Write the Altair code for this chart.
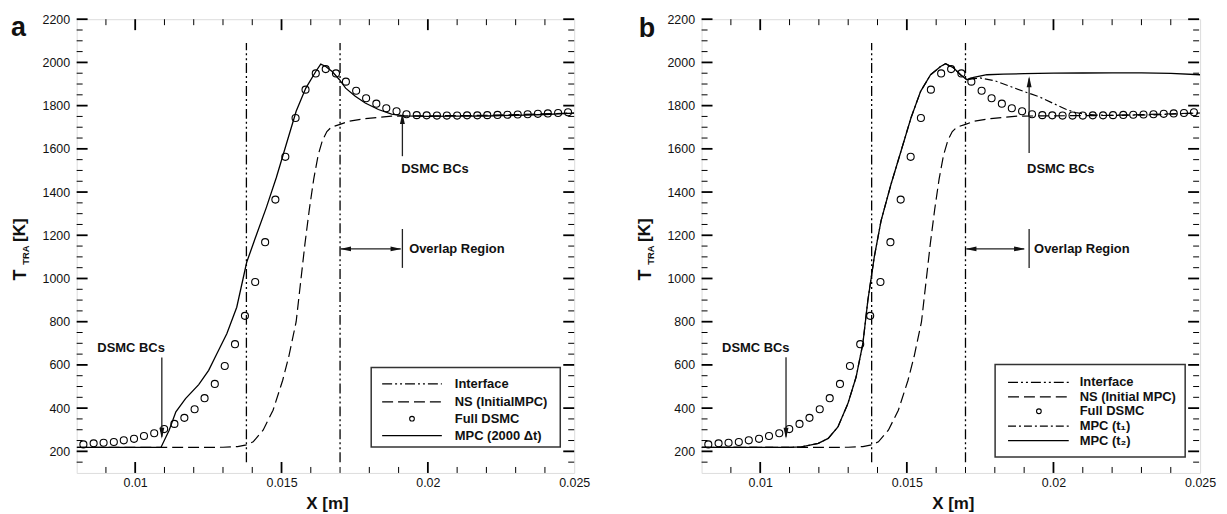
import altair as alt
import pandas as pd

# ---------------- data ----------------
dsmc_x = [0.00823, 0.00858, 0.00892, 0.00927, 0.00961, 0.00996, 0.01030, 0.01065, 0.01099, 0.01134,
          0.01168, 0.01203, 0.01237, 0.01272, 0.01306, 0.01341, 0.01375, 0.01410, 0.01444, 0.01479,
          0.01513, 0.01548, 0.01582, 0.01617, 0.01651, 0.01686, 0.01720, 0.01755, 0.01789, 0.01824,
          0.01858, 0.01893, 0.01927, 0.01962, 0.01996, 0.02031, 0.02065, 0.02100, 0.02134, 0.02169,
          0.02203, 0.02238, 0.02272, 0.02307, 0.02341, 0.02376, 0.02410, 0.02445, 0.02479]
dsmc_T = [232, 237, 240, 243, 251, 258, 271, 284, 303, 327,
          355, 395, 446, 512, 595, 696, 827, 984, 1168, 1365,
          1563, 1743, 1874, 1949, 1969, 1949, 1911, 1869, 1834, 1809,
          1788, 1774, 1760, 1756, 1755, 1754, 1754, 1754, 1755, 1755,
          1756, 1757, 1758, 1759, 1760, 1762, 1764, 1766, 1769]

ns_x = [0.008, 0.0120, 0.0130, 0.0135, 0.0138, 0.01403, 0.01437, 0.01471, 0.01504, 0.01525,
        0.0155, 0.01565, 0.0158, 0.01595, 0.0161, 0.01625, 0.0164, 0.01655, 0.0167, 0.0170,
        0.0173, 0.01786, 0.01876, 0.0200, 0.0215, 0.0230, 0.0250]
ns_T = [218, 218, 219, 222, 230, 244, 298, 390, 529, 640,
        800, 980, 1160, 1320, 1460, 1570, 1640, 1680, 1700, 1713,
        1728, 1740, 1751, 1753, 1754, 1758, 1766]

mpc_a_x = [0.008, 0.01088, 0.01116, 0.01139, 0.01172, 0.01217, 0.01251, 0.01279, 0.01313, 0.01347,
           0.01381, 0.01415, 0.01448, 0.01482, 0.01516, 0.0155, 0.01583, 0.01617, 0.01634, 0.01651,
           0.01673, 0.01698, 0.01719, 0.01752, 0.01786, 0.01831, 0.01876, 0.0192, 0.0200, 0.0210,
           0.0220, 0.0230, 0.0240, 0.0250]
mpc_a_T = [218, 218, 298, 383, 444, 509, 575, 652, 744, 867,
           1075, 1205, 1328, 1466, 1620, 1774, 1881, 1958, 1992, 1981,
           1958, 1920, 1881, 1843, 1812, 1782, 1761, 1753, 1750, 1751,
           1752, 1755, 1759, 1765]

mpc_t2_x = [0.008, 0.0110, 0.01141, 0.01198, 0.01232, 0.01265, 0.01299, 0.01327, 0.0135, 0.01367,
            0.01389, 0.01412, 0.01446, 0.0148, 0.01514, 0.01547, 0.01581, 0.01615, 0.01632, 0.0166,
            0.01683, 0.01705, 0.01728, 0.01773, 0.01829, 0.0190, 0.0200, 0.0210, 0.0220, 0.0230,
            0.0240, 0.0250]
mpc_t2_T = [218, 218, 221, 237, 260, 313, 421, 544, 698, 898,
            1100, 1267, 1436, 1589, 1743, 1866, 1943, 1981, 1994, 1974,
            1943, 1920, 1931, 1943, 1946, 1948, 1950, 1951, 1952, 1952,
            1949, 1943]

mpc_t1_x = [0.008, 0.0110, 0.01141, 0.01198, 0.01232, 0.01265, 0.01299, 0.01327, 0.0135, 0.01367,
            0.01389, 0.01412, 0.01446, 0.0148, 0.01514, 0.01547, 0.01581, 0.01615, 0.01632, 0.0166,
            0.01683, 0.01705, 0.01728, 0.0175, 0.0180, 0.01852, 0.0190, 0.01953, 0.0200, 0.02044,
            0.02075, 0.0211, 0.0215, 0.0220, 0.0230, 0.0240, 0.0250]
mpc_t1_T = [218, 218, 221, 237, 260, 313, 421, 544, 698, 898,
            1100, 1267, 1436, 1589, 1743, 1866, 1943, 1981, 1994, 1974,
            1943, 1920, 1925, 1928, 1915, 1889, 1865, 1840, 1810, 1782,
            1768, 1760, 1756, 1755, 1756, 1760, 1766]

interface_x = [0.0138, 0.017]
interface_T = [150, 2090]

x_label_values = [0.01, 0.015, 0.02, 0.025]
y_label_values = [200, 400, 600, 800, 1000, 1200, 1400, 1600, 1800, 2000, 2200]

# ---------------- styling helpers ----------------
FONT = "Liberation Sans"
W, H = 500, 456
X_DOMAIN = [0.008, 0.025]
Y_DOMAIN = [100, 2200]

XS = alt.Scale(domain=X_DOMAIN, nice=False, zero=False)
YS = alt.Scale(domain=Y_DOMAIN, nice=False, zero=False)
XAX = alt.Axis(values=x_label_values, format="~g", ticks=False, domain=False, grid=False,
               labelFlush=False, labelFont=FONT, labelFontSize=12.5, labelColor="#111",
               labelPadding=4, title=None)
YAX = alt.Axis(values=y_label_values, format="d", ticks=False, domain=False, grid=False,
               labelFont=FONT, labelFontSize=12.5, labelColor="#111", labelPadding=7, title=None)


def X(f):
    return alt.X(f"{f}:Q", scale=XS, axis=XAX)


def Y(f):
    return alt.Y(f"{f}:Q", scale=YS, axis=YAX)


ONE = pd.DataFrame({"k": [0]})

DASH_IFACE = [10, 3, 2, 3, 2, 3]
DASH_NS = [11, 5]
DASH_T1 = [8, 3, 2, 3]

ARROW_DOWN = "M0,0L-0.45,-2L0.45,-2Z"
ARROW_UP = "M0,0L-0.45,2L0.45,2Z"
ARROW_LEFT = "M0,0L2,-0.45L2,0.45Z"
ARROW_RIGHT = "M0,0L-2,-0.45L-2,0.45Z"

# tick positions (axis decoration)
y_major = list(range(200, 2201, 200))
y_minor = [v for v in range(150, 2200, 50) if v % 200 != 0]
x_major = [0.01, 0.015, 0.02]
x_minor = [round(0.008 + 0.001 * i, 3) for i in range(1, 17) if i not in (2, 7, 12)]


def ticks():
    layers = []
    for vals, ln, sw in ((y_major, 11, 1.8), (y_minor, 6, 1.0)):
        d = pd.DataFrame({"v": vals})
        layers.append(alt.Chart(d).mark_rule(color="black", strokeWidth=sw).encode(
            y=Y("v"), x=alt.value(0), x2=alt.value(ln)))
        layers.append(alt.Chart(d).mark_rule(color="black", strokeWidth=sw).encode(
            y=Y("v"), x=alt.value(W), x2=alt.value(W - ln)))
    for vals, ln, sw in ((x_major, 11, 1.8), (x_minor, 6, 1.0)):
        d = pd.DataFrame({"v": vals})
        layers.append(alt.Chart(d).mark_rule(color="black", strokeWidth=sw).encode(
            x=X("v"), y=alt.value(H), y2=alt.value(H - ln)))
        layers.append(alt.Chart(d).mark_rule(color="black", strokeWidth=sw).encode(
            x=X("v"), y=alt.value(0), y2=alt.value(ln)))
    return layers


def line(xv, tv, dash=None, sw=1.3):
    d = pd.DataFrame({"x": xv, "T": tv})
    kw = dict(color="black", strokeWidth=sw, clip=True)
    if dash:
        kw["strokeDash"] = dash
    return alt.Chart(d).mark_line(**kw).encode(x=X("x"), y=Y("T"))


def interfaces():
    d = pd.DataFrame({"x": interface_x, "y0": [interface_T[0]] * 2, "y1": [interface_T[1]] * 2})
    return alt.Chart(d).mark_rule(color="black", strokeWidth=1.3, strokeDash=DASH_IFACE).encode(
        x=X("x"), y=Y("y0"), y2=alt.Y2("y1"))


def circles():
    d = pd.DataFrame({"x": dsmc_x, "T": dsmc_T})
    return alt.Chart(d).mark_point(shape="circle", filled=False, size=50, color="black",
                                   strokeWidth=1.1, opacity=1).encode(x=X("x"), y=Y("T"))


def vseg(x, t0, t1):
    d = pd.DataFrame({"x": [x], "a": [t0], "b": [t1]})
    return alt.Chart(d).mark_rule(color="#222", strokeWidth=1.3).encode(
        x=X("x"), y=Y("a"), y2=alt.Y2("b"))


def hseg(x0, x1, t):
    d = pd.DataFrame({"a": [x0], "b": [x1], "T": [t]})
    return alt.Chart(d).mark_rule(color="#222", strokeWidth=1.3).encode(
        x=X("a"), x2=alt.X2("b"), y=Y("T"))


def head(x, t, shape):
    d = pd.DataFrame({"x": [x], "T": [t]})
    return alt.Chart(d).mark_point(shape=shape, filled=True, size=121, color="#111",
                                   opacity=1).encode(x=X("x"), y=Y("T"))


def label(x, t, txt, align="left", baseline="alphabetic"):
    d = pd.DataFrame({"x": [x], "T": [t], "s": [txt]})
    return alt.Chart(d).mark_text(font=FONT, fontWeight="bold", fontSize=13, color="#111",
                                  align=align, baseline=baseline).encode(
        x=X("x"), y=Y("T"), text="s:N")


def ptext(px, py, txt, size, align="center", baseline="alphabetic", angle=None, weight="bold"):
    kw = dict(font=FONT, fontWeight=weight, fontSize=size, color="#111", align=align,
              baseline=baseline)
    if angle is not None:
        kw["angle"] = angle
    return alt.Chart(ONE).mark_text(**kw).encode(x=alt.value(px), y=alt.value(py),
                                                 text=alt.value(txt))


def legend(box, rows, sample_x, circle_x, text_x):
    x0, x1, y0, y1 = box
    layers = [alt.Chart(ONE).mark_rect(fill="white", stroke="#333", strokeWidth=1.5).encode(
        x=alt.value(x0), x2=alt.value(x1), y=alt.value(y0), y2=alt.value(y1))]
    for ry, kind, txt in rows:
        if kind == "circle":
            layers.append(alt.Chart(ONE).mark_point(shape="circle", filled=False, size=22,
                                                    color="black", strokeWidth=1.1, opacity=1).encode(
                x=alt.value(circle_x), y=alt.value(ry)))
        else:
            kw = dict(color="black", strokeWidth=1.3)
            if kind is not None:
                kw["strokeDash"] = kind
            layers.append(alt.Chart(ONE).mark_rule(**kw).encode(
                x=alt.value(sample_x[0]), x2=alt.value(sample_x[1]), y=alt.value(ry)))
        layers.append(ptext(text_x, ry, txt, 13, align="left", baseline="middle"))
    return layers


def ytitle():
    return [
        ptext(-51, 257, "T", 18, angle=270),
        ptext(-48, 237, "TRA", 9.5, angle=270),
        ptext(-52, 212, "[K]", 17, angle=270),
    ]


# ---------------- panel a ----------------
layers_a = [
    interfaces(),
    line(ns_x, ns_T, DASH_NS, 1.2),
    line(mpc_a_x, mpc_a_T, None, 1.3),
    circles(),
    # DSMC BCs (left)
    vseg(0.01091, 634, 268), head(0.01091, 258, ARROW_DOWN),
    label(0.00986, 658, "DSMC BCs", align="center"),
    # DSMC BCs (right)
    vseg(0.01913, 1566, 1755), head(0.01913, 1766, ARROW_UP),
    label(0.01909, 1489, "DSMC BCs"),
    # Overlap region
    hseg(0.01703, 0.01907, 1137), head(0.01700, 1137, ARROW_LEFT), head(0.01910, 1137, ARROW_RIGHT),
    vseg(0.01913, 1049, 1229),
    label(0.01936, 1137, "Overlap Region", baseline="middle"),
] + ticks() + legend(
    (296, 486, 350, 430),
    [(366.5, DASH_IFACE, "Interface"), (384.5, DASH_NS, "NS (InitialMPC)"),
     (401.5, "circle", "Full DSMC"), (418.5, None, "MPC (2000 \u0394t)")],
    (307, 367), 337, 380) + ytitle() + [
    ptext(-66, 16.5, "a", 27, align="left"),
    ptext(252, 492, "X [m]", 17),
]

panel_a = alt.layer(*layers_a).properties(width=W, height=H)

# ---------------- panel b ----------------
layers_b = [
    interfaces(),
    line(ns_x, ns_T, DASH_NS, 1.2),
    line(mpc_t1_x, mpc_t1_T, DASH_T1, 1.2),
    line(mpc_t2_x, mpc_t2_T, None, 1.3),
    circles(),
    vseg(0.01088, 636, 268), head(0.01088, 258, ARROW_DOWN),
    label(0.00985, 662, "DSMC BCs", align="center"),
    vseg(0.01917, 1581, 1925), head(0.01917, 1936, ARROW_UP),
    label(0.01910, 1489, "DSMC BCs"),
    hseg(0.01703, 0.01900, 1137), head(0.01700, 1137, ARROW_LEFT), head(0.01903, 1137, ARROW_RIGHT),
    vseg(0.01917, 1049, 1229),
    label(0.01934, 1137, "Overlap Region", baseline="middle"),
] + ticks() + legend(
    (295, 486, 347, 440),
    [(365, DASH_IFACE, "Interface"), (379.5, DASH_NS, "NS (Initial MPC)"),
     (394, "circle", "Full DSMC"), (409, DASH_T1, "MPC (t\u2081)"),
     (423.5, None, "MPC (t\u2082)")],
    (308, 369), 339, 380) + ytitle() + [
    ptext(-63, 18, "b", 27, align="left"),
    ptext(253, 492, "X [m]", 17),
]

panel_b = alt.layer(*layers_b).properties(width=W + 1, height=H)

chart = alt.hconcat(panel_a, panel_b, spacing=44).properties(
    padding={"left": 2, "top": 3, "right": 2, "bottom": 0}
).configure_view(stroke="black", strokeWidth=2).configure(background="white")

chart.save("out.html", embed_options={"renderer": "svg", "actions": False})
